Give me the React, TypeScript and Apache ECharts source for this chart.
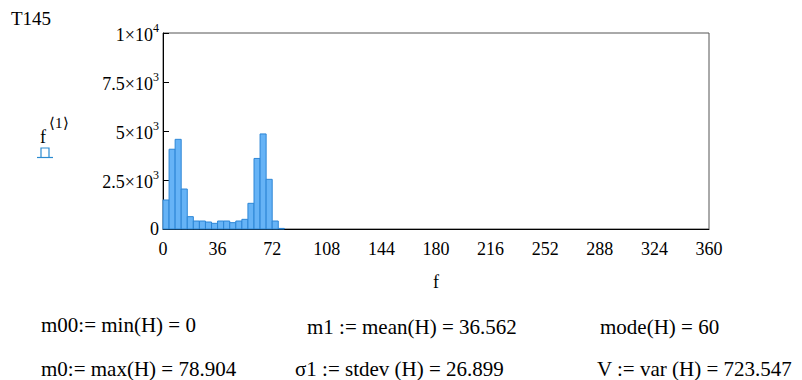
import React, { useEffect, useRef } from "react";
import * as echarts from "echarts";

// Histogram bins (left edges) and counts
const binStarts = [0, 4, 8, 12, 16, 20, 24, 28, 32, 36, 40, 44, 48, 52, 56, 60, 64, 68, 72, 76];
const binWidth = 4;
const counts = [1480, 4070, 4575, 2040, 630, 408, 408, 357, 290, 408, 408, 323, 408, 493, 1310, 3600, 4850, 2535, 408, 30];

const yTickLabels: Record<number, string> = {
  0: "0",
  2500: "{m|2.5×10}{s|3}",
  5000: "{m|5×10}{s|3}",
  7500: "{m|7.5×10}{s|3}",
  10000: "{m|1×10}{s|4}",
};

const statsRow1 = ["m00:= min(H) = 0", "m1 := mean(H) = 36.562", "mode(H) = 60"];
const statsRow2 = ["m0:= max(H) = 78.904", "σ1 := stdev (H) = 26.899", "V := var (H) = 723.547"];

const FONT = "Liberation Serif";

export default function App() {
  const ref = useRef<HTMLDivElement>(null);
  useEffect(() => {
    if (!ref.current) return;
    const chart = echarts.init(ref.current, null, { renderer: "svg" });
    const data = binStarts.map((s, i) => [s, s + binWidth, counts[i]]);
    const statStyle = { fontFamily: FONT, fontSize: 21, fill: "#000", verticalAlign: "middle" };
    chart.setOption({
      animation: false,
      textStyle: { fontFamily: FONT },
      grid: {
        left: 163,
        top: 33,
        width: 546,
        height: 196,
        show: true,
        borderColor: "#555",
        borderWidth: 1,
        backgroundColor: "transparent",
      },
      xAxis: {
        type: "value",
        min: 0,
        max: 360,
        interval: 36,
        splitLine: { show: false },
        axisTick: { show: false },
        axisLine: { show: true, onZero: false, lineStyle: { color: "#000", width: 1 } },
        axisLabel: { color: "#000", fontFamily: FONT, fontSize: 18, margin: 11 },
        name: "f",
        nameLocation: "middle",
        nameGap: 44,
        nameTextStyle: { color: "#000", fontFamily: FONT, fontSize: 18 },
      },
      yAxis: {
        type: "value",
        min: 0,
        max: 10000,
        interval: 2500,
        splitLine: { show: false },
        axisTick: { show: true, inside: true, length: 6, lineStyle: { color: "#000" } },
        axisLine: { show: true, lineStyle: { color: "#000", width: 1 } },
        axisLabel: {
          color: "#000",
          margin: 4,
          formatter: (v: number) => yTickLabels[v] ?? "",
          fontFamily: FONT,
          fontSize: 18,
          rich: {
            m: { fontFamily: FONT, fontSize: 18, color: "#000", lineHeight: 22, verticalAlign: "bottom" },
            s: { fontFamily: FONT, fontSize: 12, color: "#000", lineHeight: 12, verticalAlign: "top" },
          },
        },
      },
      series: [
        {
          type: "custom",
          data,
          encode: { x: [0, 1], y: 2 },
          renderItem: (params: any, api: any) => {
            const p0 = api.coord([api.value(0), api.value(2)]);
            const p1 = api.coord([api.value(1), 0]);
            return {
              type: "rect",
              shape: { x: p0[0], y: p0[1], width: p1[0] - p0[0], height: p1[1] - p0[1] },
              style: { fill: "#66B3F6", stroke: "#2D86D6", lineWidth: 1 },
            };
          },
        },
      ],
      graphic: [
        { type: "text", left: 11, top: 9, style: { fontFamily: FONT, fontSize: 19, fill: "#000", text: "T145" } },
        { type: "text", left: 40, top: 128, style: { fontFamily: FONT, fontSize: 18, fill: "#000", text: "f" } },
        { type: "text", left: 49, top: 115, style: { fontFamily: FONT, fontSize: 15, fill: "#000", text: "⟨1⟩" } },
        {
          type: "polyline",
          shape: { points: [[41, 157], [41, 148], [49, 148], [49, 157]] },
          style: { stroke: "#2A8AD0", lineWidth: 1.2, fill: "none" },
        },
        {
          type: "line",
          shape: { x1: 37, y1: 157.5, x2: 53, y2: 157.5 },
          style: { stroke: "#2A8AD0", lineWidth: 1.2 },
        },
        { type: "text", x: 41, y: 325, style: { ...statStyle, text: statsRow1[0] } },
        { type: "text", x: 307, y: 327, style: { ...statStyle, text: statsRow1[1] } },
        { type: "text", x: 600, y: 327, style: { ...statStyle, text: statsRow1[2] } },
        { type: "text", x: 41, y: 369, style: { ...statStyle, text: statsRow2[0] } },
        { type: "text", x: 295, y: 369, style: { ...statStyle, text: statsRow2[1] } },
        { type: "text", x: 597, y: 369, style: { ...statStyle, text: statsRow2[2] } },
      ],
    });
    return () => chart.dispose();
  }, []);
  return (
    <div
      ref={ref}
      style={{ position: "fixed", left: 0, top: 0, width: 802, height: 380, background: "#fff" }}
    />
  );
}
